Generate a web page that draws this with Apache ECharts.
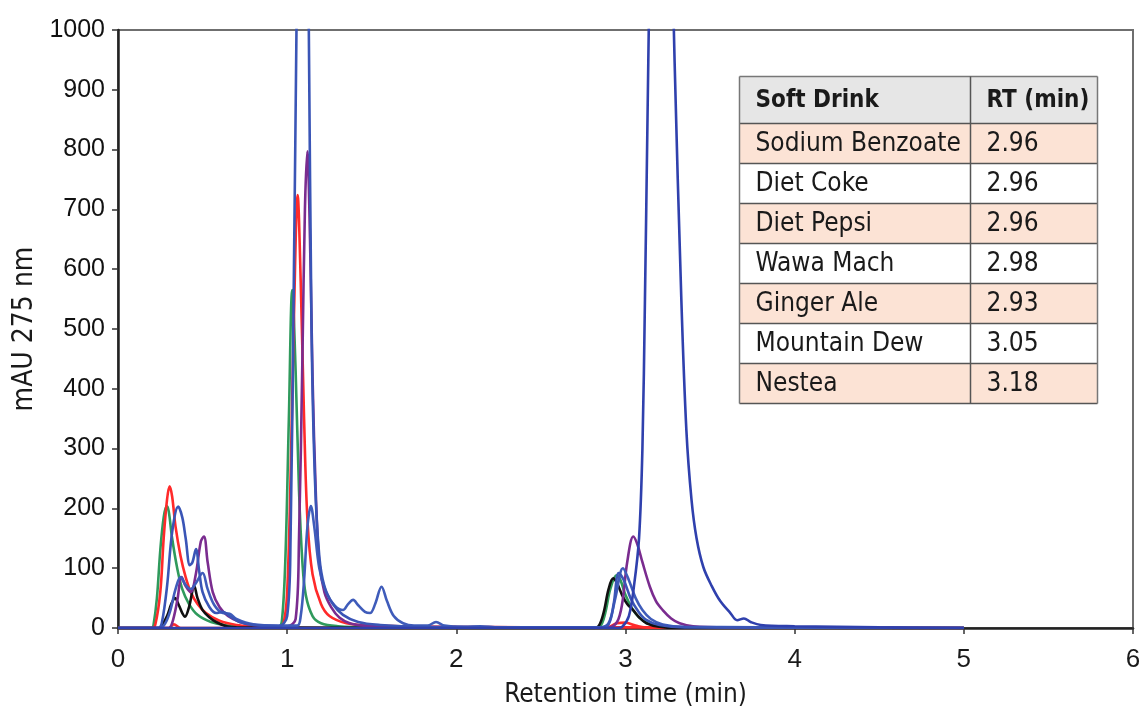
<!DOCTYPE html>
<html>
<head>
<meta charset="utf-8">
<title>Soft drink chromatograms</title>
<script src="https://cdn.jsdelivr.net/npm/echarts@6/dist/echarts.min.js"></script>
<style>
  html, body { margin: 0; padding: 0; background: #fff; }
  #chart { width: 1142px; height: 717px; }
</style>
</head>
<body>
<div id="chart"></div>
<script>
// axis ticks
var xTicks = [0, 1, 2, 3, 4, 5, 6];
var yTicks = [0, 100, 200, 300, 400, 500, 600, 700, 800, 900, 1000];

// table in the upper right
var tableHeader = ['Soft Drink', 'RT (min)'];
var drinks = ['Sodium Benzoate', 'Diet Coke', 'Diet Pepsi', 'Wawa Mach', 'Ginger Ale', 'Mountain Dew', 'Nestea'];
var drinkRT = ['2.96', '2.96', '2.96', '2.98', '2.93', '3.05', '3.18'];

// traces, [time (min), mAU]
var blankTrace = [[0,0],[0.3,0],[0.33,6],[0.37,0],[2.88,0],[2.95,8],[3.0,9],[3.06,4],[3.15,0],[5,0]];

var redTrace = [[0,0],[0.2,0],[0.22,5],[0.25,60],[0.27,150],[0.29,215],[0.305,237],[0.32,220],[0.34,170],
  [0.37,120],[0.4,85],[0.43,60],[0.47,40],[0.52,25],[0.6,12],[0.7,5],[0.8,3],[0.95,2],[0.98,10],[1.0,60],
  [1.02,250],[1.04,520],[1.062,724],[1.08,580],[1.1,350],[1.12,180],[1.15,90],[1.2,40],[1.25,20],[1.35,8],
  [1.5,4],[2.0,2],[2.8,1],[3.2,1],[5,0]];

var greenTrace = [[0,0],[0.2,0],[0.21,5],[0.23,50],[0.25,130],[0.27,185],[0.288,204],[0.3,195],[0.32,150],
  [0.35,100],[0.38,65],[0.42,40],[0.47,22],[0.55,10],[0.65,4],[0.8,2],[0.95,2],[0.97,15],[0.99,120],[1.01,350],
  [1.03,565],[1.05,430],[1.07,230],[1.09,110],[1.11,55],[1.15,20],[1.2,8],[1.3,3],[1.5,1],[2.8,0],[2.85,3],
  [2.88,25],[2.91,65],[2.947,88],[2.97,80],[3.0,55],[3.04,32],[3.08,18],[3.13,8],[3.2,3],[3.4,1],[5,0]];

var blueATrace = [[0,0],[0.24,0],[0.26,10],[0.29,70],[0.32,160],[0.356,203],[0.38,185],[0.4,150],[0.425,105],
  [0.44,110],[0.461,132],[0.48,95],[0.5,60],[0.54,35],[0.58,25],[0.62,27],[0.66,20],[0.72,10],[0.8,5],[0.95,3],
  [1.0,20],[1.02,150],[1.04,600],[1.055,1000],[1.07,1400],[1.09,1550],[1.11,1400],[1.128,1000],[1.144,500],
  [1.164,250],[1.19,120],[1.22,70],[1.27,40],[1.33,22],[1.42,10],[1.55,5],[1.8,2],[2.85,1],[2.9,6],[2.93,40],
  [2.96,92],[2.99,80],[3.03,50],[3.07,30],[3.12,14],[3.2,5],[3.35,1],[5,0]];

var blueBTrace = [[0,0],[0.25,0],[0.28,8],[0.31,30],[0.34,65],[0.37,85],[0.4,72],[0.43,65],[0.46,75],[0.5,92],
  [0.53,65],[0.57,38],[0.62,25],[0.66,24],[0.7,15],[0.8,6],[0.95,4],[1.06,4],[1.08,20],[1.1,80],[1.12,170],
  [1.14,204],[1.16,170],[1.19,100],[1.23,60],[1.28,38],[1.33,30],[1.36,40],[1.39,47],[1.42,38],[1.46,27],
  [1.49,25],[1.52,40],[1.558,69],[1.59,45],[1.63,20],[1.685,8],[1.75,4],[1.83,4],[1.88,10],[1.93,4],[2.05,2],
  [2.14,3],[2.25,1],[2.85,1],[2.9,8],[2.94,50],[2.985,100],[3.02,80],[3.06,50],[3.1,30],[3.15,15],[3.22,6],
  [3.35,2],[5,0]];

var purpleTrace = [[0,0],[0.3,0],[0.32,8],[0.35,45],[0.376,85],[0.4,70],[0.43,60],[0.46,90],[0.49,145],
  [0.508,153],[0.53,110],[0.56,60],[0.6,35],[0.65,20],[0.72,10],[0.8,5],[1.0,3],[1.05,15],[1.07,150],[1.09,450],
  [1.105,700],[1.119,797],[1.135,650],[1.15,420],[1.17,220],[1.19,110],[1.22,60],[1.26,35],[1.31,17],[1.37,8],
  [1.45,4],[1.6,2],[2.9,1],[2.95,10],[2.98,40],[3.01,110],[3.046,153],[3.07,140],[3.1,110],[3.144,69],[3.18,45],
  [3.22,30],[3.27,16],[3.32,8],[3.4,3],[3.6,1],[5,0]];

var blackTrace = [[0,0],[0.24,0],[0.26,5],[0.29,20],[0.315,40],[0.337,50],[0.36,38],[0.38,25],[0.396,19],
  [0.42,35],[0.451,70],[0.47,50],[0.5,30],[0.54,18],[0.58,10],[0.64,3],[0.7,1],[2.8,0],[2.84,3],[2.87,25],
  [2.9,65],[2.927,83],[2.95,75],[2.98,55],[3.01,40],[3.045,30],[3.08,18],[3.124,8],[3.2,2],[3.3,0],[5,0]];

var nesteaTrace = [[0,0],[2.95,0],[2.98,2],[3.02,20],[3.05,70],[3.08,150],[3.1,300],[3.115,550],[3.13,850],
  [3.14,1050],[3.17,1600],[3.2,1900],[3.23,1700],[3.27,1200],[3.29,950],[3.33,550],[3.36,330],[3.39,215],
  [3.42,150],[3.46,102],[3.51,70],[3.56,45],[3.62,25],[3.66,13],[3.7,16],[3.74,10],[3.8,5],[4.0,3],[4.5,1],[5,0]];

var traces = [
  { name: 'Blank', data: blankTrace, color: '#ff2a2a' },
  { name: 'Sodium Benzoate', data: greenTrace, color: '#2f9a5c' },
  { name: 'Diet Coke', data: redTrace, color: '#ff2a2a' },
  { name: 'Ginger Ale', data: blackTrace, color: '#111111' },
  { name: 'Mountain Dew', data: purpleTrace, color: '#7a2c8f' },
  { name: 'Wawa Mach', data: blueBTrace, color: '#3f5cba' },
  { name: 'Diet Pepsi', data: blueATrace, color: '#3a55b6' },
  { name: 'Nestea', data: nesteaTrace, color: '#2f40ad' }
];

var cond = '"DejaVu Sans Condensed", "Liberation Sans", sans-serif';
var arial = '"Liberation Sans", Arial, sans-serif';

// table drawn with graphic elements
function buildTable() {
  var col = 231, w = 358, headH = 47, rowH = 40;
  var h = headH + drinks.length * rowH;
  var kids = [];
  kids.push({ type: 'rect', shape: { x: 0, y: 0, width: w, height: headH }, style: { fill: '#e6e6e6' } });
  drinks.forEach(function (d, i) {
    kids.push({ type: 'rect', shape: { x: 0, y: headH + i * rowH, width: w, height: rowH },
      style: { fill: i % 2 === 0 ? '#fce3d5' : '#ffffff' } });
  });
  for (var i = 0; i <= drinks.length; i++) {
    var y = headH + i * rowH;
    kids.push({ type: 'line', shape: { x1: 0, y1: y, x2: w, y2: y }, style: { stroke: '#555', lineWidth: 1.5 } });
  }
  kids.push({ type: 'line', shape: { x1: 0, y1: 0, x2: w, y2: 0 }, style: { stroke: '#777', lineWidth: 1.5 } });
  kids.push({ type: 'line', shape: { x1: 0, y1: 0, x2: 0, y2: h }, style: { stroke: '#777', lineWidth: 1.5 } });
  kids.push({ type: 'line', shape: { x1: w, y1: 0, x2: w, y2: h }, style: { stroke: '#777', lineWidth: 1.5 } });
  kids.push({ type: 'line', shape: { x1: col, y1: 0, x2: col, y2: h }, style: { stroke: '#555', lineWidth: 1.5 } });

  var txt = function (s, x, y, head) {
    return { type: 'text', x: x, y: y, style: { text: s, fill: '#1a1a1a',
      font: head ? 'bold 24px ' + cond : '26px ' + cond, verticalAlign: 'middle', align: 'left' } };
  };
  kids.push(txt(tableHeader[0], 16, headH / 2 + 1, true));
  kids.push(txt(tableHeader[1], col + 16, headH / 2 + 1, true));
  drinks.forEach(function (d, i) {
    var cy = headH + i * rowH + rowH / 2 + 1;
    kids.push(txt(d, 16, cy));
    kids.push(txt(drinkRT[i], col + 16, cy));
  });
  return { type: 'group', left: 737, top: 74, children: kids };
}

var chart = echarts.init(document.getElementById('chart'));
chart.setOption({
  animation: false,
  grid: { left: 118, right: 9, top: 30, bottom: 89, containLabel: false, outerBoundsMode: 'none',
    show: true, borderColor: '#6f6f6f', borderWidth: 2 },
  xAxis: {
    type: 'value', min: xTicks[0], max: xTicks[xTicks.length - 1], interval: 1,
    name: 'Retention time (min)', nameLocation: 'middle', nameGap: 54,
    nameTextStyle: { fontFamily: cond, fontSize: 26, color: '#1a1a1a' },
    axisLine: { lineStyle: { color: '#222', width: 2.5 } },
    axisTick: { show: true, length: 6, lineStyle: { color: '#333', width: 1.5 } },
    axisLabel: { fontFamily: arial, fontSize: 26, color: '#1a1a1a', margin: 19 },
    splitLine: { show: false }
  },
  yAxis: {
    type: 'value', min: yTicks[0], max: yTicks[yTicks.length - 1], interval: 100,
    name: 'mAU 275 nm', nameLocation: 'middle', nameGap: 74, nameRotate: 90,
    nameTextStyle: { fontFamily: cond, fontSize: 28, color: '#1a1a1a' },
    axisLine: { show: true, lineStyle: { color: '#222', width: 2.5 } },
    axisTick: { show: true, length: 6, lineStyle: { color: '#333', width: 1.5 } },
    axisLabel: { fontFamily: arial, fontSize: 25, color: '#111', margin: 13,
      formatter: function (v) { return String(v); } },
    splitLine: { show: false }
  },
  series: traces.map(function (t) {
    return {
      name: t.name, type: 'line', data: t.data, smooth: 0.35, showSymbol: false, clip: true,
      lineStyle: { color: t.color, width: 2.6 }, itemStyle: { color: t.color }
    };
  }),
  graphic: [buildTable()]
});
</script>
</body>
</html>
